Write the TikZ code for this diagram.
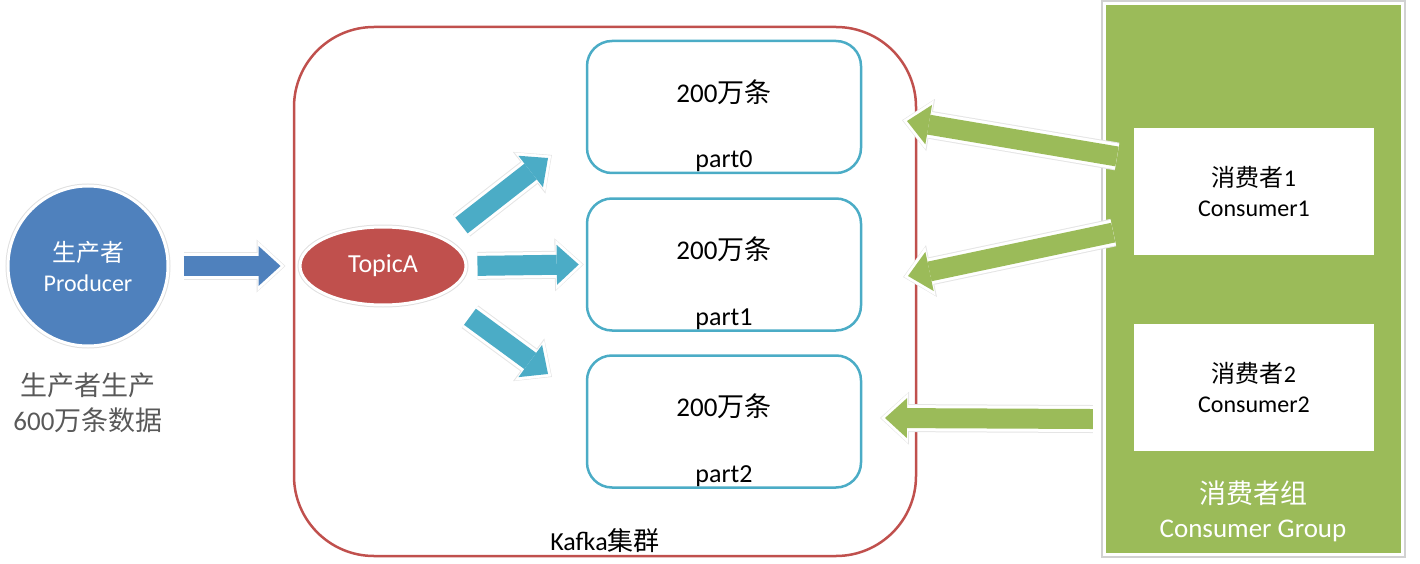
\documentclass[tikz,border=0pt]{standalone}
\usepackage{fontspec}
\setmainfont{Carlito}
\newfontfamily\cjk{Noto Sans CJK SC}
\usepackage{tikz}
\usetikzlibrary{shapes.geometric,arrows.meta,calc,positioning}

\definecolor{prodblue}{HTML}{4F81BD}
\definecolor{kafkared}{HTML}{C0504D}
\definecolor{partteal}{HTML}{4BACC6}
\definecolor{groupgreen}{HTML}{9BBB59}
\definecolor{notegray}{HTML}{595959}

\tikzset{
  fat/.style={draw=#1, line width=20pt, -{Triangle[length=22pt,width=40pt,line width=0pt]},
    preaction={draw=black!10, line width=28pt, -{Triangle[length=29pt,width=53pt,line width=0pt]}, shorten >=-5pt},
    preaction={draw=white, line width=26pt, -{Triangle[length=27pt,width=50pt,line width=0pt]}, shorten >=-4pt}},
  halo/.style={draw=white, line width=3pt, preaction={draw=black!12, line width=5pt}},
  partbox/.style={draw=partteal, line width=2.5pt, rounded corners=25pt, minimum width=274pt, minimum height=132pt},
  consbox/.style={fill=white, minimum width=240pt, minimum height=127pt, align=center, font=\fontsize{24}{30}\selectfont},
  bigtxt/.style={font=\fontsize{27}{35}\selectfont, align=center},
  midtxt/.style={font=\fontsize{26}{30}\selectfont, align=center},
  smalltxt/.style={font=\fontsize{24}{30}\selectfont, align=center}
}

\begin{document}
\begin{tikzpicture}[x=1pt,y=-1pt]
\useasboundingbox (0,0) rectangle (1420,564);
% kafka cluster
\node[draw=kafkared, line width=2.5pt, rounded corners=80pt, minimum width=622pt, minimum height=529pt] (kafka) at (605,291.5) {};
\node[midtxt] (kafkalabel) at (605,541) {Kafka{\cjk 集群}};
% producer
\node[circle, fill=prodblue, halo, minimum size=160pt, text=white, smalltxt] (producer) at (88,266) {{\cjk 生产者}\\Producer};
\node[bigtxt, text=notegray] (note) at (88,403) {{\cjk 生产者生产}\\600{\cjk 万条数据}};
% topic
\node[ellipse, fill=kafkared, halo, minimum width=166pt, minimum height=78pt, text=white, midtxt] (topic) at (383,266) {TopicA};
% partitions
\foreach \i/\y in {0/107,1/264.5,2/421.5} {
  \node[partbox] (p\i) at (724,\y) {};
  \node[bigtxt] (n\i) at ($(p\i.center)+(0,-15)$) {200{\cjk 万条}};
  \node[midtxt] (pl\i) at ($(p\i.south)+(0,-13)$) {part\i};
}
% consumer group
\node[fill=groupgreen, draw=white, line width=3pt, preaction={draw=black!18, line width=7pt}, minimum width=298pt, minimum height=550pt] (group) at (1253,279) {};
\node[consbox] (c1) at (1254,191.5) {{\cjk 消费者}1\\Consumer1};
\node[consbox] (c2) at (1254,387) {{\cjk 消费者}2\\Consumer2};
\node[bigtxt, text=white, font=\fontsize{27}{34}\selectfont] (grouplabel) at (1253,511) {{\cjk 消费者组}\\Consumer Group};
% arrow ends
\coordinate[left=18pt of topic.west] (pin);
\coordinate (in0) at (548,158);
\coordinate[left=7pt of p1.west] (in1);
\coordinate (in2) at (548,374);
\coordinate (back0) at (907,121);
\coordinate (back1) at (908,276);
\coordinate (back2) at (885,418);
% arrows
\draw[fat=prodblue, shorten <=14pt] (producer) -- (pin);
\draw[fat=partteal, shorten <=21pt] (topic.24) -- (in0);
\draw[fat=partteal, shorten <=10pt] (topic.east) -- (in1);
\draw[fat=partteal, shorten <=36pt] (topic.-27) -- (in2);
\draw[fat=groupgreen, shorten <=17pt] (c1.165) -- (back0);
\draw[fat=groupgreen, shorten <=21pt] (c1.197) -- (back1);
\draw[fat=groupgreen, shorten <=41pt] (c2.195) -- (back2);
\end{tikzpicture}
\end{document}
